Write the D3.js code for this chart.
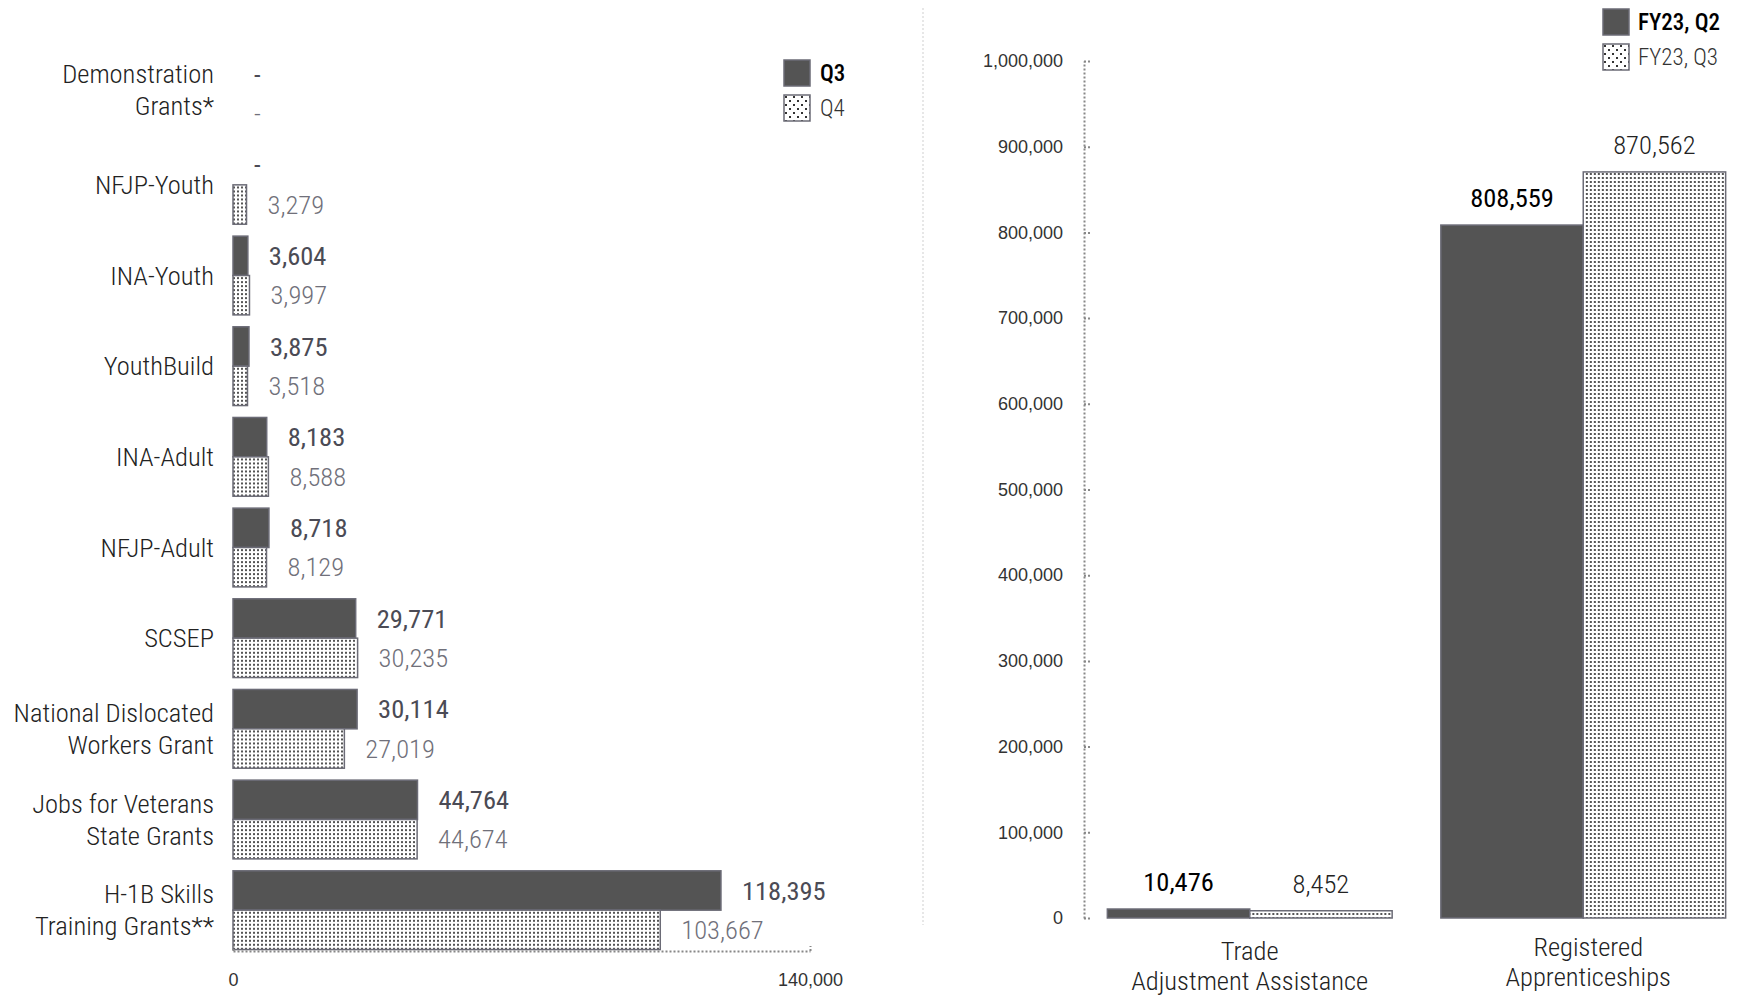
<!DOCTYPE html>
<html><head><meta charset="utf-8">
<script src="https://cdn.jsdelivr.net/npm/d3@7"></script>
<style>
html,body{margin:0;padding:0;background:#fff;}
svg{display:block;font-family:"Roboto Condensed","Roboto",sans-serif;font-stretch:condensed;}
</style></head><body>
<svg id="chart" width="1738" height="998"></svg>
<script>
// Left panel: participants by national program, two quarters
const programs = ["Demonstration Grants*", "NFJP-Youth", "INA-Youth", "YouthBuild", "INA-Adult",
  "NFJP-Adult", "SCSEP", "National Dislocated Workers Grant", "Jobs for Veterans State Grants",
  "H-1B Skills Training Grants**"];
const programLines = [["Demonstration", "Grants*"], ["NFJP-Youth"], ["INA-Youth"], ["YouthBuild"],
  ["INA-Adult"], ["NFJP-Adult"], ["SCSEP"], ["National Dislocated", "Workers Grant"],
  ["Jobs for Veterans", "State Grants"], ["H-1B Skills", "Training Grants**"]];
const q3Values = [null, null, 3604, 3875, 8183, 8718, 29771, 30114, 44764, 118395];
const q4Values = [null, 3279, 3997, 3518, 8588, 8129, 30235, 27019, 44674, 103667];
const leftSeries = ["Q3", "Q4"];
const leftTicks = [0, 140000];

// Right panel: Trade Adjustment Assistance and Registered Apprenticeships
const outcomeCategories = ["Trade Adjustment Assistance", "Registered Apprenticeships"];
const outcomeLines = [["Trade", "Adjustment Assistance"], ["Registered", "Apprenticeships"]];
const fy23Q2Values = [10476, 808559];
const fy23Q3Values = [8452, 870562];
const rightSeries = ["FY23, Q2", "FY23, Q3"];
const rightTicks = [0, 100000, 200000, 300000, 400000, 500000, 600000, 700000, 800000, 900000, 1000000];

const fmt = d3.format(",");
const svg = d3.select("#chart");
const DARK = "#545454", EDGE = "#6b6b76";
const LABEL_SIZE = 26.5;

// dotted fill patterns
const defs = svg.append("defs");
const barDots = defs.append("pattern").attr("id", "dots").attr("patternUnits", "userSpaceOnUse")
  .attr("width", 4).attr("height", 4);
barDots.append("rect").attr("width", 4).attr("height", 4).attr("fill", "#fff");
barDots.append("rect").attr("x", 1).attr("y", 1).attr("width", 2).attr("height", 2).attr("fill", "#555");

const legendDots = defs.append("pattern").attr("id", "dotsLegend").attr("patternUnits", "userSpaceOnUse")
  .attr("width", 8).attr("height", 8);
legendDots.append("rect").attr("width", 8).attr("height", 8).attr("fill", "#fff");
legendDots.append("rect").attr("x", 1).attr("y", 1).attr("width", 2).attr("height", 2).attr("fill", "#333");
legendDots.append("rect").attr("x", 5).attr("y", 5).attr("width", 2).attr("height", 2).attr("fill", "#333");

const fillFor = i => i === 0 ? DARK : "url(#dots)";

// ---------- left panel ----------
const x = d3.scaleLinear().domain([0, 140000]).range([233, 810]);
const y = d3.scaleBand().domain(programs).range([48.85, 955.5]).paddingInner(0.1313).paddingOuter(0.0656);
const ySub = d3.scaleBand().domain(leftSeries).range([0, y.bandwidth()]);

const leftRows = programs.map((p, i) => ({ p, lines: programLines[i], vals: [q3Values[i], q4Values[i]] }));
const lg = svg.append("g");
const rowG = lg.selectAll("g.row").data(leftRows).join("g").attr("class", "row")
  .attr("transform", d => `translate(0,${y(d.p)})`);

rowG.each(function (d) {
  const g = d3.select(this);
  d.vals.forEach((v, si) => {
    const top = ySub(leftSeries[si]);
    const h = ySub.bandwidth();
    if (v != null) {
      g.append("rect").attr("x", x(0)).attr("y", top).attr("width", x(v) - x(0)).attr("height", h)
        .attr("fill", fillFor(si)).attr("stroke", EDGE).attr("stroke-width", 1.5);
    }
    g.append("text").attr("x", (v != null ? x(v) : x(0)) + 21).attr("y", top + h / 2).attr("dy", "0.35em")
      .attr("font-size", LABEL_SIZE).attr("font-weight", si === 0 ? 400 : 300)
      .attr("fill", si === 0 ? "#4b4b55" : "#70707a")
      .text(v != null ? fmt(v) : "-");
  });
  const c = y.bandwidth() / 2 - (d.lines.length > 1 && d.p === programs[0] ? 4 : 0);
  const n = d.lines.length;
  g.append("text").attr("text-anchor", "end").attr("x", 214).attr("font-size", LABEL_SIZE).attr("font-weight", 300)
    .attr("fill", "#222")
    .selectAll("tspan").data(d.lines).join("tspan").attr("x", 214)
    .attr("y", (t, k) => c + (k - (n - 1) / 2) * 32).attr("dy", "0.35em").text(t => t);
});

const xAxis = lg.append("g").attr("transform", "translate(0,951)")
  .call(d3.axisBottom(x).tickValues(leftTicks).tickFormat(fmt).tickSizeInner(-5).tickSizeOuter(0).tickPadding(22));
xAxis.select(".domain").attr("stroke", "#888").attr("stroke-width", 2).attr("stroke-dasharray", "2,2");
xAxis.selectAll(".tick line").attr("stroke", "#888").attr("stroke-width", 2).attr("stroke-dasharray", "2,2");
xAxis.selectAll(".tick text").attr("font-size", 18).attr("font-weight", 300).attr("fill", "#333")
  .attr("font-family", "inherit");

// left legend
const leftLegend = lg.append("g").selectAll("g").data(leftSeries).join("g")
  .attr("transform", (d, i) => `translate(784,${60 + i * 35})`);
leftLegend.append("rect").attr("width", 26).attr("height", 26)
  .attr("fill", (d, i) => i === 0 ? DARK : "url(#dotsLegend)").attr("stroke", EDGE).attr("stroke-width", 1.5);
leftLegend.append("text").attr("x", 36).attr("y", 13).attr("dy", "0.35em").attr("font-size", 23)
  .attr("font-weight", (d, i) => i === 0 ? 500 : 300).attr("fill", (d, i) => i === 0 ? "#000" : "#333").text(d => d);

// panel divider
svg.append("line").attr("x1", 923).attr("x2", 923).attr("y1", 8).attr("y2", 925)
  .attr("stroke", "#cfcfcf").attr("stroke-width", 1).attr("stroke-dasharray", "2,2");

// ---------- right panel ----------
const yR = d3.scaleLinear().domain([0, 1000000]).range([918, 61]);
const xR = d3.scaleBand().domain(outcomeCategories).range([1084, 1749]).paddingInner(0.146).paddingOuter(0.07);
const xSub = d3.scaleBand().domain(rightSeries).range([0, xR.bandwidth()]);

const rg = svg.append("g");
const yAxis = rg.append("g").attr("transform", "translate(1084,0)")
  .call(d3.axisLeft(yR).tickValues(rightTicks).tickFormat(fmt).tickSizeInner(-6).tickSizeOuter(0).tickPadding(21));
yAxis.select(".domain").attr("stroke", "#888").attr("stroke-width", 2).attr("stroke-dasharray", "2,2");
yAxis.selectAll(".tick line").attr("stroke", "#888").attr("stroke-width", 2).attr("stroke-dasharray", "2,2");
yAxis.selectAll(".tick text").attr("font-size", 18).attr("font-weight", 300).attr("fill", "#333")
  .attr("font-family", "inherit");

const rightRows = outcomeCategories.map((c, i) => ({ c, lines: outcomeLines[i], vals: [fy23Q2Values[i], fy23Q3Values[i]] }));
const colG = rg.selectAll("g.col").data(rightRows).join("g").attr("class", "col")
  .attr("transform", d => `translate(${xR(d.c)},0)`);
colG.each(function (d, ci) {
  const g = d3.select(this);
  d.vals.forEach((v, si) => {
    const left = xSub(rightSeries[si]);
    g.append("rect").attr("x", left).attr("y", yR(v)).attr("width", xSub.bandwidth()).attr("height", yR(0) - yR(v))
      .attr("fill", fillFor(si)).attr("stroke", EDGE).attr("stroke-width", 1.5);
    g.append("text").attr("text-anchor", "middle").attr("x", left + xSub.bandwidth() / 2).attr("y", yR(v) - 27)
      .attr("dy", "0.35em").attr("font-size", LABEL_SIZE).attr("font-weight", si === 0 ? 400 : 300)
      .attr("fill", si === 0 ? "#000" : "#222").text(fmt(v));
  });
  g.append("text").attr("text-anchor", "middle").attr("font-size", LABEL_SIZE).attr("font-weight", 300).attr("fill", "#222")
    .selectAll("tspan").data(d.lines).join("tspan").attr("x", xR.bandwidth() / 2 + (ci === 1 ? 5 : 0))
    .attr("y", (t, k) => (ci === 1 ? 947 : 951) + k * 30).attr("dy", "0.35em").text(t => t);
});

// right legend
const rightLegend = rg.append("g").selectAll("g").data(rightSeries).join("g")
  .attr("transform", (d, i) => `translate(1603,${9 + i * 35})`);
rightLegend.append("rect").attr("width", 26).attr("height", 26)
  .attr("fill", (d, i) => i === 0 ? DARK : "url(#dotsLegend)").attr("stroke", EDGE).attr("stroke-width", 1.5);
rightLegend.append("text").attr("x", 35).attr("y", 13).attr("dy", "0.35em").attr("font-size", 23)
  .attr("font-weight", (d, i) => i === 0 ? 500 : 300).attr("fill", (d, i) => i === 0 ? "#000" : "#333").text(d => d);
</script>
</body></html>
